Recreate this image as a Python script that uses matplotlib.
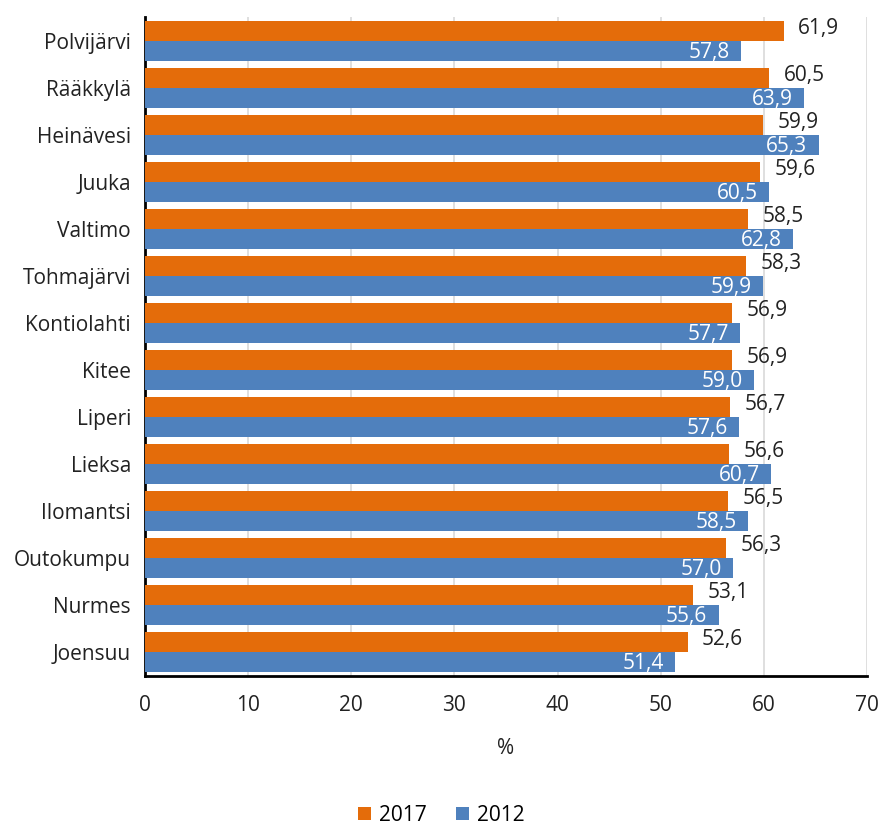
import matplotlib.pyplot as plt
import numpy as np

plt.rcParams['font.family'] = ['Open Sans', 'DejaVu Sans']

kunnat = ['Polvijärvi', 'Rääkkylä', 'Heinävesi', 'Juuka', 'Valtimo', 'Tohmajärvi',
          'Kontiolahti', 'Kitee', 'Liperi', 'Lieksa', 'Ilomantsi', 'Outokumpu',
          'Nurmes', 'Joensuu']
v2017 = [61.9, 60.5, 59.9, 59.6, 58.5, 58.3, 56.9, 56.9, 56.7, 56.6, 56.5, 56.3, 53.1, 52.6]
v2012 = [57.8, 63.9, 65.3, 60.5, 62.8, 59.9, 57.7, 59.0, 57.6, 60.7, 58.5, 57.0, 55.6, 51.4]

orange = '#E46C0A'
blue = '#4F81BD'
fs = 15

fig = plt.figure(figsize=(8.83, 8.26), dpi=100)
ax = fig.add_axes([0.164, 0.182, 0.818, 0.797])

y = np.arange(len(kunnat))
h = 0.43
b1 = ax.barh(y - h / 2, v2017, height=h, color=orange, label='2017', zorder=3)
b2 = ax.barh(y + h / 2, v2012, height=h, color=blue, label='2012', zorder=3)

def fmt(v):
    return ('%.1f' % v).replace('.', ',')

# 2017 arvot palkin perään, 2012 arvot palkin sisään
for yi, v in zip(y, v2017):
    ax.text(v + 1.4, yi - h / 2 - 0.05, fmt(v), ha='left', va='center', fontsize=fs, color='#222222', zorder=4)
for yi, v in zip(y, v2012):
    ax.text(v - 1.1, yi + h / 2 + 0.03, fmt(v), ha='right', va='center', fontsize=fs, color='white', zorder=4)

ax.set_ylim(len(kunnat) - 0.5, -0.5)
ax.set_xlim(0, 70)
ax.set_xticks(range(0, 71, 10))
ax.set_yticks(y)
ax.set_yticklabels(kunnat)
ax.tick_params(axis='both', length=0, labelsize=fs, colors='#222222')
ax.tick_params(axis='x', pad=14)
ax.tick_params(axis='y', pad=10)
ax.grid(axis='x', color='#D9D9D9', linewidth=1.2, zorder=0)
ax.spines['top'].set_visible(False)
ax.spines['right'].set_visible(False)
ax.spines['left'].set_linewidth(2)
ax.spines['bottom'].set_linewidth(2)
ax.set_xlabel('%', fontsize=fs, color='#222222', labelpad=16)

fig.legend(handles=[b1, b2], loc='center', bbox_to_anchor=(0.5, 0.013), ncol=2,
           frameon=False, fontsize=fs, handlelength=0.6, handleheight=0.6,
           handletextpad=0.4, columnspacing=1.4)

fig.savefig('out.png', dpi=100)
